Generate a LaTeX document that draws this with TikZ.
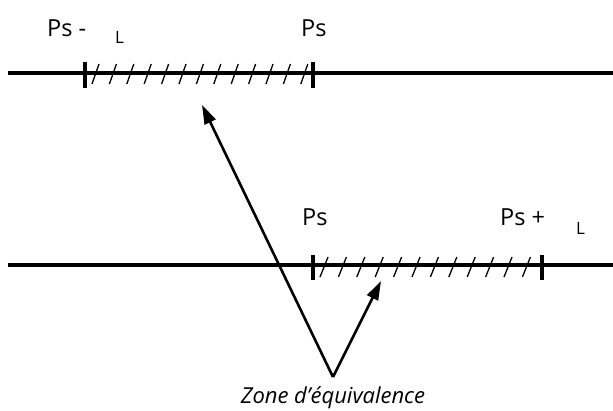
\documentclass[tikz,border=0pt]{standalone}
\usepackage{fontspec}
\setmainfont{Open Sans}
\usetikzlibrary{arrows.meta}
\begin{document}
\begin{tikzpicture}[x=1pt,y=-1pt,
  axis/.style={line width=3.2pt},
  tickmark/.style={line width=3.2pt},
  hatch/.style={line width=1.3pt},
  arr/.style={line width=2.6pt,-{Triangle[length=19pt,width=12pt]}},
  lbl/.style={anchor=base west,inner sep=0pt,font=\fontsize{23.5}{26}\selectfont},
  sub/.style={anchor=base west,inner sep=0pt,font=\fontsize{17}{19}\selectfont},
  zlbl/.style={anchor=base,inner sep=0pt,font=\itshape\fontsize{22}{24}\selectfont}]
\useasboundingbox (0,0) rectangle (613,410);
% top line
\coordinate (t0) at (8,73);
\coordinate (t1) at (613,73);
\draw[axis] (t0) -- (t1);
\coordinate (ta) at (85,62);
\coordinate (tb) at (85,88);
\coordinate (tc) at (313,62);
\coordinate (td) at (313,88);
\draw[tickmark] (ta) -- (tb);
\draw[tickmark] (tc) -- (td);
\foreach \i in {0,...,12} {
  \draw[hatch] ({92+17.4*\i},84) -- ({99+17.4*\i},64);
}
% bottom line
\coordinate (b0) at (8,265);
\coordinate (b1) at (613,265);
\draw[axis] (b0) -- (b1);
\coordinate (ba) at (313,255);
\coordinate (bb) at (313,280);
\coordinate (bc) at (542,255);
\coordinate (bd) at (542,280);
\draw[tickmark] (ba) -- (bb);
\draw[tickmark] (bc) -- (bd);
\foreach \i in {0,...,11} {
  \draw[hatch] ({320+18.4*\i},277) -- ({328+18.4*\i},257);
}
% labels
\node[lbl] (l1) at (47,36) {Ps -};
\node[sub] (l1s) at (115,43) {L};
\node[lbl] (l2) at (301,36) {Ps};
\node[lbl] (l3) at (302,225) {Ps};
\node[lbl] (l4) at (500,225) {Ps +};
\node[sub] (l4s) at (576,234) {L};
% arrows
\coordinate (v) at (333,377);
\coordinate (p1) at (202,105);
\coordinate (p2) at (381,281);
\draw[arr] (v) -- (p1);
\draw[arr] (v) -- (p2);
\node[zlbl] (z) at (333,403) {Zone d’équivalence};
\end{tikzpicture}
\end{document}
